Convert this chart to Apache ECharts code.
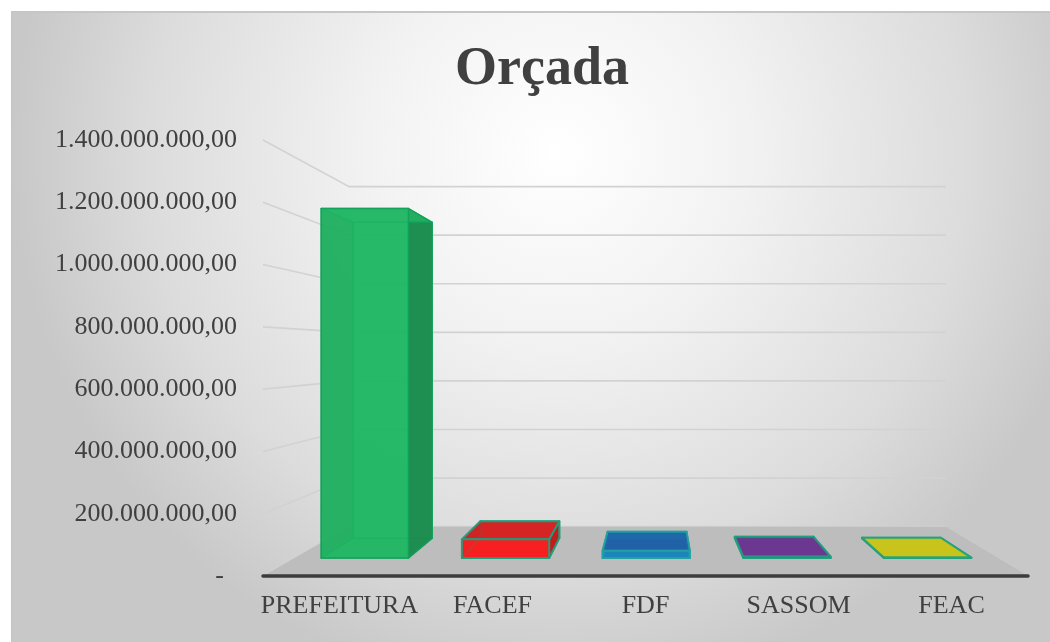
<!DOCTYPE html>
<html lang="pt" style="height: 100%">

<head>
  <meta charset="utf-8">
</head>

<body style="height: 100%; margin: 0; background: #ffffff">
  <div id="container" style="width: 1050px; height: 642px"></div>
  <script type="text/javascript" src="https://fastly.jsdelivr.net/npm/echarts@6.0.0/dist/echarts.min.js"></script>
  <script type="text/javascript">
    // dados
    const categorias = ['PREFEITURA', 'FACEF', 'FDF', 'SASSOM', 'FEAC'];
    const orcada = [1220000000, 65000000, 25000000, 5000000, 1500000];
    const yTicks = [0, 200000000, 400000000, 600000000, 800000000, 1000000000, 1200000000, 1400000000];

    // estilos de cada barra (frente, lado, topo, borda)
    const estilos = [
      { face: '#22b865', side: '#1d8a4e', top: '#22b060', stroke: '#10a05a' },
      { face: '#ff1c1c', side: '#c01a1a', top: '#d02222', stroke: '#1fa07e' },
      { face: '#1a8cc0', side: '#1a6a9c', top: '#1f60a6', stroke: '#22a3a0' },
      { face: '#6c3a94', side: '#5a2f80', top: '#6b3590', stroke: '#1fa07e' },
      { face: '#c9c61a', side: '#b0ad18', top: '#c8c41a', stroke: '#1fa07e' }
    ];

    const FONT = "'Liberation Serif', 'Times New Roman', serif";
    const TXT = '#404040';

    // perspectiva: fundo = 0.78 da frente, ponto de fuga
    const K = 1 / 0.78 - 1;
    const VP_IDX = 2.06;      // posicao x do ponto de fuga, em categorias
    const VP_VAL = 720000000; // altura do olho
    const BAR_W = 0.62;
    const D0 = 0.31, D1 = 0.72;

    function fmt(v) {
      if (v === 0) return '-  ';
      const s = String(Math.round(v));
      let out = '';
      for (let i = 0; i < s.length; i++) {
        if (i > 0 && (s.length - i) % 3 === 0) out += '.';
        out += s[i];
      }
      return out + ',00';
    }

    function makeProj(api) {
      const band = api.size([1, 0])[0];
      const o = api.coord([0, 0]);
      const vp = [o[0] + VP_IDX * band, api.coord([0, VP_VAL])[1]];
      return function (p, d) {
        const s = 1 / (1 + K * d);
        return [vp[0] + s * (p[0] - vp[0]), vp[1] + s * (p[1] - vp[1])];
      };
    }

    function renderScene(params, api) {
      const proj = makeProj(api);
      const band = api.size([1, 0])[0];
      const xl = api.coord([0, 0])[0] - band / 2;
      const xr = api.coord([categorias.length - 1, 0])[0] + band / 2;
      const children = [];
      yTicks.forEach(function (t) {
        const y = api.coord([0, t])[1];
        const a = proj([xl, y], 0), b = proj([xl, y], 1), c = proj([xr, y], 1);
        children.push({
          type: 'polyline',
          shape: { points: [a, b, c] },
          style: { stroke: '#d2d2d2', lineWidth: 1.6, fill: null }
        });
      });
      const y0 = api.coord([0, 0])[1];
      children.push({
        type: 'polygon',
        shape: { points: [proj([xl, y0], 0), proj([xr, y0], 0), proj([xr, y0], 1), proj([xl, y0], 1)] },
        style: { fill: '#bdbdbd' }
      });
      children.push({
        type: 'line',
        shape: { x1: xl, y1: y0, x2: xr, y2: y0 },
        style: { stroke: '#3c3c3c', lineWidth: 3.5, lineCap: 'round' }
      });
      return { type: 'group', children: children };
    }

    function renderBar(params, api) {
      const i = api.value(0), v = api.value(1);
      const st = estilos[i];
      const proj = makeProj(api);
      const band = api.size([1, 0])[0];
      const half = band * BAR_W / 2;
      const c0 = api.coord([i, 0]), c1 = api.coord([i, v]);
      const P = function (dx, top, d) { return proj([c0[0] + dx, top ? c1[1] : c0[1]], d); };
      const FLB = P(-half, false, D0), FRB = P(half, false, D0), BLB = P(-half, false, D1), BRB = P(half, false, D1);
      const FLT = P(-half, true, D0), FRT = P(half, true, D0), BLT = P(-half, true, D1), BRT = P(half, true, D1);
      const lw = v > 100000000 ? 1.5 : 2;
      const face = function (pts, fill, op) {
        return { type: 'polygon', shape: { points: pts }, style: { fill: fill, stroke: st.stroke, lineWidth: lw, opacity: op, lineJoin: 'round' } };
      };
      return {
        type: 'group',
        children: [
          face([FLB, FRB, BRB, BLB], st.top, 0.9),
          face([BLB, BRB, BRT, BLT], st.face, 0.9),
          face([FLB, BLB, BLT, FLT], st.side, 0.85),
          face([FRB, BRB, BRT, FRT], st.side, 0.92),
          face([FLT, FRT, BRT, BLT], st.top, 0.88),
          face([FLB, FRB, FRT, FLT], st.face, 0.8)
        ]
      };
    }

    var dom = document.getElementById('container');
    var myChart = echarts.init(dom, null, { renderer: 'canvas' });

    var option = {
      animation: false,
      graphic: {
        elements: [{
          type: 'rect',
          z: -10,
          shape: { x: 12, y: 12, width: 1050, height: 640 },
          style: {
            fill: {
              type: 'radial', x: 0.52, y: 0.22, r: 0.85,
              colorStops: [
                { offset: 0, color: '#ffffff' },
                { offset: 0.35, color: '#f2f2f2' },
                { offset: 0.75, color: '#dcdcdc' },
                { offset: 1, color: '#c8c8c8' }
              ]
            },
            stroke: '#c6c6c6',
            lineWidth: 2
          }
        }]
      },
      title: {
        text: 'Orçada',
        left: 537,
        textAlign: 'center',
        top: 38,
        textStyle: { fontFamily: FONT, fontWeight: 'bold', fontSize: 54, color: TXT }
      },
      grid: { left: 263, right: 22, top: 140, bottom: 66 },
      xAxis: {
        type: 'category',
        data: categorias,
        axisLine: { show: false },
        axisTick: { show: false },
        axisLabel: { fontFamily: FONT, fontSize: 26, color: TXT, margin: 17, interval: 0 }
      },
      yAxis: {
        type: 'value',
        min: 0,
        max: 1400000000,
        interval: 200000000,
        splitLine: { show: false },
        axisLine: { show: false },
        axisTick: { show: false },
        axisLabel: { fontFamily: FONT, fontSize: 26, color: TXT, margin: 26, formatter: fmt }
      },
      series: [
        {
          type: 'custom',
          z: 1,
          silent: true,
          renderItem: renderScene,
          data: [[0, 0]]
        },
        {
          type: 'custom',
          z: 3,
          silent: true,
          renderItem: renderBar,
          data: orcada.map(function (v, i) { return [i, v]; })
        }
      ]
    };

    myChart.setOption(option);
    window.addEventListener('resize', myChart.resize);
  </script>
</body>

</html>
